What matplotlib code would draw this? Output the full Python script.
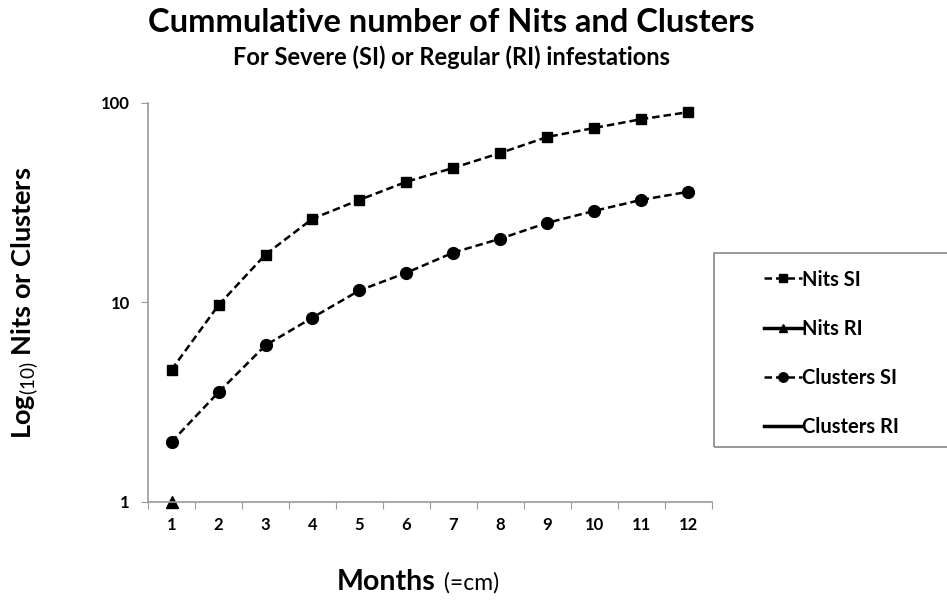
import matplotlib.pyplot as plt
from matplotlib.patches import Rectangle
import numpy as np

plt.rcParams['font.family'] = ['Lato', 'DejaVu Sans']
plt.rcParams['mathtext.fontset'] = 'custom'
plt.rcParams['mathtext.rm'] = 'Lato'
plt.rcParams['mathtext.bf'] = 'Lato:bold'

# data
months = [1, 2, 3, 4, 5, 6, 7, 8, 9, 10, 11, 12]
nits_si = [4.6, 9.7, 17.4, 26.3, 32.7, 40.3, 47.3, 56.2, 67.6, 75, 83, 90]
clusters_si = [2.0, 3.55, 6.1, 8.4, 11.5, 14.1, 17.8, 20.9, 25.1, 28.8, 32.7, 35.9]
nits_ri_months = [1]
nits_ri = [1]
clusters_ri_months = []
clusters_ri = []

fig = plt.figure(figsize=(9.47, 6.03), dpi=100)
ax = fig.add_axes([0.1563, 0.1675, 0.5955, 0.6617])

ax.plot(months, nits_si, color='black', ls=(0, (3, 1.6)), lw=1.8,
        marker='s', ms=6.5, label='Nits SI')
ax.plot(nits_ri_months, nits_ri, color='black', ls='-', lw=2.5,
        marker='^', ms=8, label='Nits RI', clip_on=False)
ax.plot(months, clusters_si, color='black', ls=(0, (3, 1.6)), lw=1.8,
        marker='o', ms=8.5, label='Clusters SI')
ax.plot(clusters_ri_months, clusters_ri, color='black', ls='-', lw=2.5,
        label='Clusters RI')

ax.set_yscale('log')
ax.set_ylim(1, 100)
ax.set_xlim(0.5, 12.5)
ax.set_yticks([1, 10, 100])
ax.set_yticklabels(['1', '10', '100'], fontsize=12, fontweight='bold')
ax.yaxis.set_minor_locator(plt.NullLocator())

# ticks between categories, labels at the centres
ax.set_xticks(np.arange(0.5, 13, 1))
ax.set_xticklabels([])
ax.set_xticks(months, minor=True)
ax.set_xticklabels([str(m) for m in months], minor=True, fontsize=12, fontweight='bold')
ax.tick_params(axis='x', which='minor', length=0, pad=11)
ax.tick_params(axis='x', which='major', length=5, color='#999999', direction='out')
ax.tick_params(axis='y', which='major', length=5, color='#999999', direction='out', pad=8)

for s in ['top', 'right']:
    ax.spines[s].set_visible(False)
for s in ['left', 'bottom']:
    ax.spines[s].set_color('#999999')
    ax.spines[s].set_linewidth(1.2)

ax.set_ylabel('Log$_{(10)}$ Nits or Clusters', fontsize=19.5, fontweight='bold')
ax.yaxis.set_label_coords(-0.19, 0.5)

fig.text(0.477, 0.963, 'Cummulative number of Nits and Clusters', ha='center', va='center',
         fontsize=23.5, fontweight='bold')
fig.text(0.477, 0.905, 'For Severe (SI) or Regular (RI) infestations', ha='center', va='center',
         fontsize=17, fontweight='bold')
fig.text(0.460, 0.022, 'Months', ha='right', va='baseline', fontsize=20.5, fontweight='bold')
fig.text(0.462, 0.022, ' (=cm)', ha='left', va='baseline', fontsize=16.5)

# legend frame runs off the right edge like in the original
fig.patches.append(Rectangle((0.754, 0.2587), 0.4, 0.3217, transform=fig.transFigure,
                             facecolor='none', edgecolor='#888888', lw=1.2))
leg = fig.legend(loc='upper left', bbox_to_anchor=(0.807, 0.553), frameon=False,
                 handlelength=1.9, handletextpad=0.0, labelspacing=1.45,
                 borderpad=0, borderaxespad=0,
                 prop={'weight': 'bold', 'size': 14.5}, markerscale=0.8)

fig.savefig('out.png', dpi=100)
